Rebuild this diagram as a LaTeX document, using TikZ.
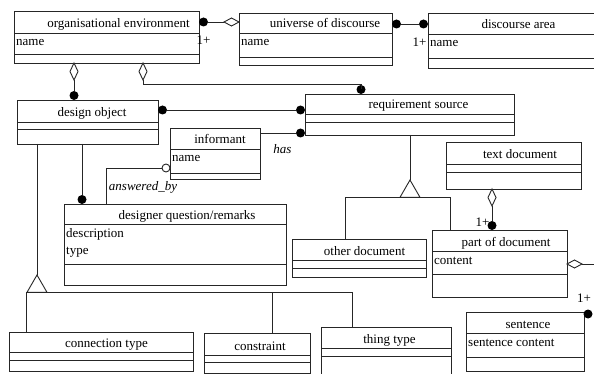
\documentclass[tikz,border=0pt]{standalone}
\usepackage{fontspec}
\setmainfont{Liberation Serif}
\usetikzlibrary{shapes.geometric,calc}
\tikzset{
 ln/.style={draw=black!85, line width=0.9pt},
 classbox/.style={ln, rectangle, inner sep=0pt, outer sep=0pt},
 titletext/.style={font=\fontsize{13}{15}\selectfont, inner sep=0pt, anchor=base},
 attrtext/.style={font=\fontsize{13}{15}\selectfont, inner sep=0pt, anchor=base west},
 lbl/.style={font=\fontsize{13}{15}\selectfont, inner sep=0pt},
 dot/.style={circle, fill=black, inner sep=0pt, outer sep=0pt, minimum size=9pt},
 ocirc/.style={circle, ln, fill=white, inner sep=0pt, outer sep=0pt, minimum size=8pt},
 hdia/.style={diamond, ln, fill=white, inner sep=0pt, outer sep=0pt, minimum width=15pt, minimum height=8pt},
 vdia/.style={diamond, ln, fill=white, inner sep=0pt, outer sep=0pt, minimum width=8pt, minimum height=17pt},
 tri/.style={regular polygon, regular polygon sides=3, ln, fill=white, inner sep=0pt, outer sep=0pt, minimum size=23pt},
}
% name, left, top, right, sep1, sep2, bottom, title centre x, title
\newcommand{\umlclass}[9]{%
 \node[classbox, anchor=north west, minimum width={#4-#2}, minimum height={#7-#3}] (#1) at (#2,#3) {};
 \draw[ln] (#2,#5) -- (#4,#5);
 \draw[ln] (#2,#6) -- (#4,#6);
 \node[titletext] (#1-t) at (#8,#5-5) {#9};
}
\begin{document}
\begin{tikzpicture}[x=1pt,y=-1pt]
\useasboundingbox (0,0) rectangle (594,374);
\clip (0,0) rectangle (594,374);
\fill[white] (0,0) rectangle (594,374);

\umlclass{oe}{14}{11}{199}{33}{54}{63}{118.5}{organisational environment}
\umlclass{uod}{239}{13}{392}{33}{57}{65}{325}{universe of discourse}
\umlclass{da}{428}{13}{600}{34}{58}{68}{518.5}{discourse area}
\umlclass{do}{17}{100}{158}{122}{129}{144}{92}{design object}
\umlclass{rs}{305}{94}{514}{114}{122}{135}{418.5}{requirement source}
\umlclass{inf}{170}{128}{260}{149}{173}{179}{220}{informant}
\umlclass{td}{446}{142}{581}{164}{172}{189}{520}{text document}
\umlclass{dq}{64}{204}{286}{224}{264}{285}{187}{designer question/remarks}
\umlclass{od}{292}{239}{426}{260}{268}{277}{364.5}{other document}
\umlclass{pd}{432}{230}{567}{251}{274}{297}{506}{part of document}
\umlclass{ct}{9}{332}{193}{352}{360}{371}{106.5}{connection type}
\umlclass{con}{204}{333}{310}{355}{362}{373}{260}{constraint}
\umlclass{tt}{321}{327}{451}{348}{356}{378}{389.5}{thing type}
\umlclass{sen}{466}{312}{584}{333}{357}{371}{528}{sentence}

% attributes
\node[attrtext] (oe-a) at (16,46) {name};
\node[attrtext] (uod-a) at (241,46) {name};
\node[attrtext] (da-a) at (430,47) {name};
\node[attrtext] (inf-a) at (172,162) {name};
\node[attrtext] (dq-a1) at (66,237) {description};
\node[attrtext] (dq-a2) at (66,254) {type};
\node[attrtext] (pd-a) at (434,264) {content};
\node[attrtext] (sen-a) at (468,346) {sentence content};

% organisational environment -- universe of discourse
\node[dot, anchor=west] (d1) at (oe.east |- 0,22) {};
\node[hdia, anchor=east] (m1) at (uod.west |- 0,22) {};
\draw[ln] (d1) -- (m1);
\node[lbl] (l1) at (203.5,40) {1+};

% universe of discourse -- discourse area
\node[dot, anchor=west] (d2) at (uod.east |- 0,24) {};
\node[dot, anchor=east] (d3) at (da.west |- 0,24) {};
\draw[ln] (d2) -- (d3);
\node[lbl] (l2) at (419.5,42) {1+};

% organisational environment -- design object
\node[vdia, anchor=north] (m2) at (74,0 |- oe.south) {};
\node[dot, anchor=south] (d4) at (74,0 |- do.north) {};
\draw[ln] (m2) -- (d4);

% organisational environment -- requirement source
\node[vdia, anchor=north] (m3) at (143,0 |- oe.south) {};
\node[dot, anchor=south] (d5) at (361,0 |- rs.north) {};
\draw[ln] (m3.south) -- ++(0,4) -| (d5.center);

% design object -- requirement source
\node[dot, anchor=west] (d6) at (do.east |- 0,110) {};
\node[dot, anchor=east] (d7) at (rs.west |- 0,110) {};
\draw[ln] (d6) -- (d7);

% informant -- requirement source
\node[dot, anchor=east] (d8) at (rs.west |- 0,133) {};
\draw[ln] (inf.east |- d8) -- (d8);
\node[lbl, font=\fontsize{13}{15}\selectfont\itshape] (l3) at (282.5,149.5) {has};

% design object -- designer question
\node[dot, anchor=south] (d9) at (82,0 |- dq.north) {};
\draw[ln] (82,0 |- do.south) -- (d9);

% informant -- designer question (answered_by)
\node[ocirc, anchor=east] (oc) at (inf.west |- 0,168) {};
\draw[ln] (oc.west) -| (106,0 |- dq.north);
\node[lbl, anchor=base, font=\fontsize{13}{15}\selectfont\itshape] (l4) at (143,190.5) {answered\_by};

% requirement source generalisation
\node[tri, anchor=corner 1] (tri1) at (410,180) {};
\draw[ln] (tri1.corner 1 |- rs.south) -- (tri1.corner 1);
\draw[ln] (345,0 |- od.north) |- (tri1.south) -| (450,0 |- pd.north);

% text document -- part of document
\node[vdia, anchor=north] (m4) at (492,0 |- td.south) {};
\node[dot, anchor=south] (d10) at (492,0 |- pd.north) {};
\draw[ln] (m4) -- (d10);
\node[lbl] (l5) at (482.5,222) {1+};

% part of document -- (off picture)
\node[hdia, anchor=west] (m5) at (pd.east |- 0,264) {};
\coordinate (e1) at (600,264);
\draw[ln] (m5) -- (e1);

% sentence
\node[dot] (d11) at (588,314) {};
\node[lbl] (l6) at (584,298) {1+};

% design object generalisation
\node[tri, anchor=corner 1] (tri2) at (37,275) {};
\draw[ln] (tri2.corner 1 |- do.south) -- (tri2.corner 1);
\draw[ln] (26,0 |- ct.north) |- (352,0 |- tri2.south) -- (352,0 |- tt.north);
\draw[ln] (272,0 |- tri2.south) -- (272,0 |- con.north);
\end{tikzpicture}
\end{document}
